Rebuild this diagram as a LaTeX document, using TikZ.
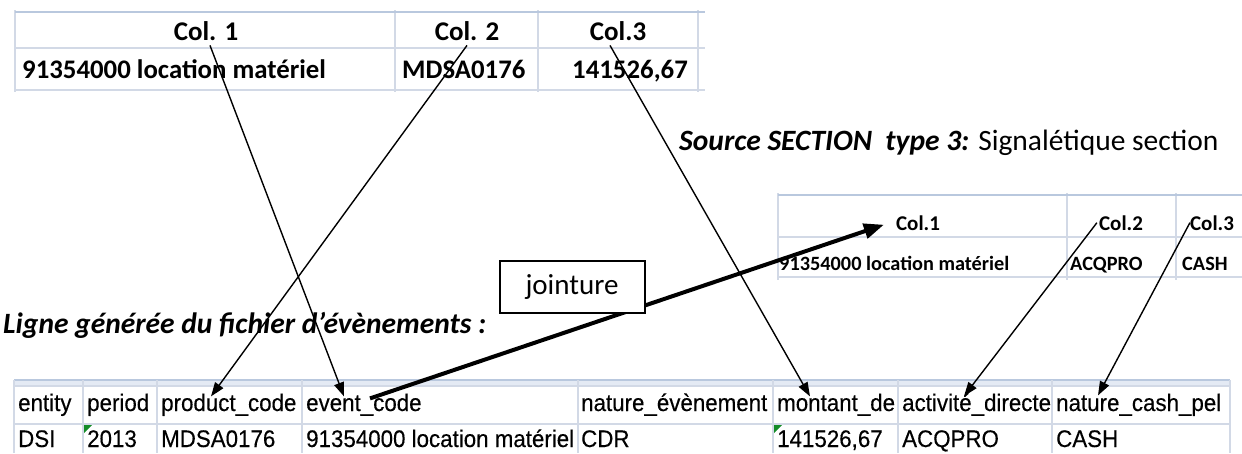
\documentclass[tikz,border=0pt]{standalone}
\usepackage{fontspec}
\setmainfont{Carlito}
\newfontfamily\narrowfont[FakeStretch=0.93,FakeBold=0.3]{Liberation Sans}
\usepackage{tikz}
\usetikzlibrary{arrows.meta,backgrounds,positioning}
\definecolor{gridc}{RGB}{210,217,230}
\definecolor{edgec}{RGB}{185,200,222}
\definecolor{stripc}{RGB}{228,234,244}
\definecolor{marker}{RGB}{20,140,40}
\tikzstyle{srchead}=[inner sep=0pt, anchor=base, font=\fontsize{27}{30}\selectfont\bfseries]
\tikzstyle{srccell}=[inner sep=0pt, anchor=base west, font=\fontsize{26.8}{30}\selectfont\bfseries]
\tikzstyle{sechead}=[inner sep=0pt, anchor=base, font=\fontsize{21}{24}\selectfont\bfseries]
\tikzstyle{seccell}=[inner sep=0pt, anchor=base west, font=\fontsize{20.3}{24}\selectfont\bfseries]
\tikzstyle{evtcell}=[inner sep=0pt, anchor=base west, font=\fontsize{24}{28}\selectfont\narrowfont]
\tikzstyle{caption}=[inner sep=0pt, anchor=base west, font=\fontsize{29.5}{34}\selectfont]
\tikzstyle{joinbox}=[rectangle, draw, line width=2pt, fill=white, minimum width=145pt, minimum height=52pt, inner sep=0pt, font=\fontsize{29}{32}\selectfont]
\tikzstyle{link}=[-{Triangle[length=14pt,width=10pt]}, line width=1.4pt]
\tikzstyle{joinlink}=[-{Triangle[length=20pt,width=15pt]}, line width=4pt]
\tikzstyle{grid}=[draw=gridc, line width=1.6pt]

\begin{document}
\begin{tikzpicture}[x=1pt,y=-1pt]
\useasboundingbox (0,0) rectangle (1242,453);

%Source table grid
\draw[grid] (15,48) -- (705,48) (15,90) -- (705,90);
\draw[grid] (15,10) -- (15,92) (395,10) -- (395,92) (538,10) -- (538,92) (698,10) -- (698,92);
\draw[draw=edgec, line width=2.2pt] (15,12) -- (705,12);
%Section table grid
\draw[grid] (778,237) -- (1242,237) (778,277) -- (1242,277);
\draw[grid] (778,193) -- (778,280) (1067,193) -- (1067,280) (1176,193) -- (1176,280);
\draw[draw=edgec, line width=2.2pt] (778,195) -- (1242,195);
%Event table grid
\fill[stripc] (14,380) rectangle (1230,386);
\draw[draw=edgec, line width=1.6pt] (14,380) -- (1230,380);
\draw[grid] (14,386) -- (1230,386) (14,424) -- (1230,424);
\foreach \x in {14,83,157,302,578,773,898,1052,1230}
  \draw[grid] (\x,380) -- (\x,453);

%Row One
\node[srchead] (srcA) at (206,40) {Col. 1};
\node[srchead] (srcB) at (467,40) {Col. 2};
\node[srchead] (srcC) at (618,40) {Col.3};
\node[srccell] (srcAval) at (22,78) {91354000 location matériel};
\node[srccell] (srcBval) at (402,78) {MDSA0176};
\node[srccell, anchor=base east] (srcCval) at (688,78) {141526,67};

%Captions
\node[caption] (srctitle) at (679,150) {\textbf{\textit{Source SECTION\ \ type 3:}} Signalétique section};
\node[caption] (evttitle) at (3,333) {\textbf{\textit{Ligne générée du fichier d’évènements :}}};

%Row Two
\node[sechead] (secA) at (918,230) {Col.1};
\node[sechead] (secB) at (1121,230) {Col.2};
\node[sechead] (secC) at (1212,230) {Col.3};
\node[seccell] (secAval) at (779,270) {91354000 location matériel};
\node[seccell] (secBval) at (1070,270) {ACQPRO};
\node[seccell] (secCval) at (1182,270) {CASH};

%Row Three
\node[evtcell] (hEntity) at (18,411) {entity};
\node[evtcell] (hPeriod) at (87,411) {period};
\node[evtcell] (hProduct) at (161,411) {product\_code};
\node[evtcell] (hEvent) at (306,411) {event\_code};
\node[evtcell] (hNature) at (581,411) {nature\_évènement};
\node[evtcell] (hMontant) at (777,411) {montant\_de};
\node[evtcell] (hActivite) at (902,411) {activité\_directe};
\node[evtcell] (hCash) at (1056,411) {nature\_cash\_pel};
\node[evtcell] (vEntity) at (18,447) {DSI};
\node[evtcell] (vPeriod) at (87,447) {2013};
\node[evtcell] (vProduct) at (161,447) {MDSA0176};
\node[evtcell] (vEvent) at (306,447) {91354000 location matériel};
\node[evtcell] (vNature) at (581,447) {CDR};
\node[evtcell] (vMontant) at (777,447) {141526,67};
\node[evtcell] (vActivite) at (902,447) {ACQPRO};
\node[evtcell] (vCash) at (1056,447) {CASH};
\fill[marker] (84,425) -- (92,425) -- (84,433) -- cycle;
\fill[marker] (774,425) -- (782,425) -- (774,433) -- cycle;

%Arrows
\draw[link] ([xshift=4pt,yshift=-5pt]srcA.south) -- ([xshift=38pt,yshift=-3pt]hEvent.north west);
\draw[link] ([yshift=-5pt]srcB.south) -- ([xshift=50pt,yshift=-3pt]hProduct.north west);
\draw[link] ([xshift=-8pt,yshift=-5pt]srcC.south) -- ([xshift=33pt,yshift=-3pt]hMontant.north west);
\draw[joinlink] ([xshift=64pt,yshift=-5pt]hEvent.north west) -- ([xshift=-12pt,yshift=-2pt]secA.west);
\draw[link] ([xshift=-2pt]secB.west) -- ([xshift=62pt,yshift=-3pt]hActivite.north west);
\draw[link] (secC.west) -- ([xshift=42pt,yshift=-2pt]hCash.north west);

\node[joinbox] (join) at (572,287) {\raisebox{-5pt}{jointure}};
\end{tikzpicture}
\end{document}
